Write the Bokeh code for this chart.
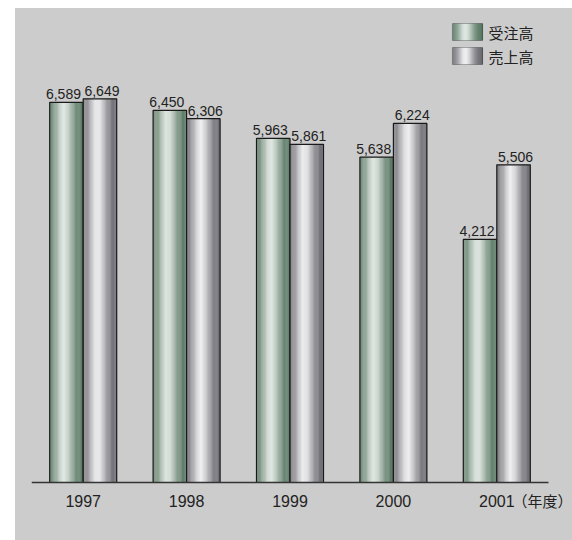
import math
from bokeh.plotting import figure
from bokeh.models import ColumnDataSource, Range1d, BoxAnnotation, Label, FixedTicker
from bokeh.transform import dodge
from bokeh.embed import file_html
from bokeh.resources import INLINE
from bokeh.core.properties import value

years = ["1997", "1998", "1999", "2000", "2001"]
orders = [6589, 6450, 5963, 5638, 4212]   # 受注高
sales = [6649, 6306, 5861, 6224, 5506]    # 売上高
series_names = ["受注高", "売上高"]
unit_label = "（年度）"

pos = list(range(1, len(years) + 1))
src = ColumnDataSource(dict(
    x=pos,
    orders=orders,
    sales=sales,
    orders_lbl=[f"{v:,}" for v in orders],
    sales_lbl=[f"{v:,}" for v in sales],
))

BG = "#cccccc"
CAT_PX = 103.4          # pixel width of one category
FRAME_W = 557 - 16      # frame width (left border 16, no right border)
PX_PER_UNIT = 0.0577
FRAME_H = 532 - 10
BASE_FROM_BOTTOM = 58

x0 = 0.5
p = figure(x_range=Range1d(x0, x0 + FRAME_W / CAT_PX),
           y_range=Range1d(-BASE_FROM_BOTTOM / PX_PER_UNIT, (FRAME_H - BASE_FROM_BOTTOM) / PX_PER_UNIT),
           width=557, height=532, margin=(8, 0, 0, 15),
           output_backend="svg", toolbar_location=None,
           min_border_left=16, min_border_right=0, min_border_top=10, min_border_bottom=0,
           styles={"background-color": BG})
p.background_fill_color = None
p.border_fill_color = None
p.outline_line_color = None
p.xgrid.visible = False
p.ygrid.visible = False
p.yaxis.visible = False

ax = p.xaxis[0]
ax.fixed_location = 0
ax.bounds = (0.5, len(years) + 0.5)
ax.ticker = FixedTicker(ticks=pos)
ax.major_label_overrides = {k: v for k, v in zip(pos, years)}
ax.axis_line_color = "#333333"
ax.axis_line_width = 1.5
ax.major_tick_line_color = None
ax.minor_tick_line_color = None
ax.major_label_text_font = "Liberation Sans"
ax.major_label_text_font_size = "16px"
ax.major_label_text_color = "#222222"
ax.major_label_standoff = 6

BW = 0.324
N = 28

def profile(t):
    pk = 0.42
    if t < pk:
        return 0.15 + 0.85 * math.exp(-((t - pk) / 0.24) ** 2)
    return math.exp(-((t - pk) / 0.30) ** 2)

def mix(dark, light, s):
    return "#%02x%02x%02x" % tuple(int(round(d + (l - d) * s)) for d, l in zip(dark, light))

palettes = [((86, 118, 96), (222, 231, 225)), ((104, 104, 110), (238, 238, 241))]
cols = ["orders", "sales"]
offsets = [-BW / 2, BW / 2]

sw = BW / N
for (dark, light), col, off in zip(palettes, cols, offsets):
    for i in range(N):
        t = (i + 0.5) / N
        c = mix(dark, light, profile(t))
        xo = off - BW / 2 + (i + 0.5) * sw
        p.vbar(x=dodge("x", xo), top=col, width=sw * 1.08,
               source=src, fill_color=c, line_color=None)
    p.vbar(x=dodge("x", off), top=col, width=BW, source=src,
           fill_color=None, line_color="#1a1a1a", line_width=1.2)

for col, off, xo in zip(cols, offsets, [-3, 2]):
    p.text(x=dodge("x", off), y=col, text=col + "_lbl", source=src,
           text_align="center", text_baseline="bottom", y_offset=-3, x_offset=xo,
           text_font=value("Liberation Sans"), text_font_size="14px", text_color="#222222")

# legend (screen units, relative to the frame's bottom-left corner)
frame_bottom_abs = 540
leg_x0, leg_w, leg_h = 421, 30, 17
for (dark, light), name, top_abs in zip(palettes, series_names, [23, 47]):
    y0 = frame_bottom_abs - top_abs - leg_h
    M = 15
    for i in range(M):
        t = (i + 0.5) / M
        c = mix(dark, light, profile(t))
        p.add_layout(BoxAnnotation(left=leg_x0 + i * leg_w / M, right=leg_x0 + (i + 1) * leg_w / M + 0.5,
                                   bottom=y0, top=y0 + leg_h,
                                   left_units="screen", right_units="screen",
                                   bottom_units="screen", top_units="screen",
                                   fill_color=c, fill_alpha=1, line_color=None))
    p.add_layout(BoxAnnotation(left=leg_x0, right=leg_x0 + leg_w, bottom=y0, top=y0 + leg_h,
                               left_units="screen", right_units="screen",
                               bottom_units="screen", top_units="screen",
                               fill_color=None, fill_alpha=0, line_color="#1a1a1a", line_width=1.2))
    p.add_layout(Label(x=leg_x0 + leg_w + 6, y=y0 + leg_h / 2, x_units="screen", y_units="screen",
                       text=name, text_baseline="middle", text_font="Noto Sans CJK JP",
                       text_font_size="15px", text_color="#222222"))

p.add_layout(Label(x=512 - 31, y=frame_bottom_abs - 500, x_units="screen", y_units="screen",
                   text=unit_label, text_baseline="middle", text_font="Noto Sans CJK JP",
                   text_font_size="15px", text_color="#222222"))

open("out.html", "w").write(file_html(p, INLINE))
